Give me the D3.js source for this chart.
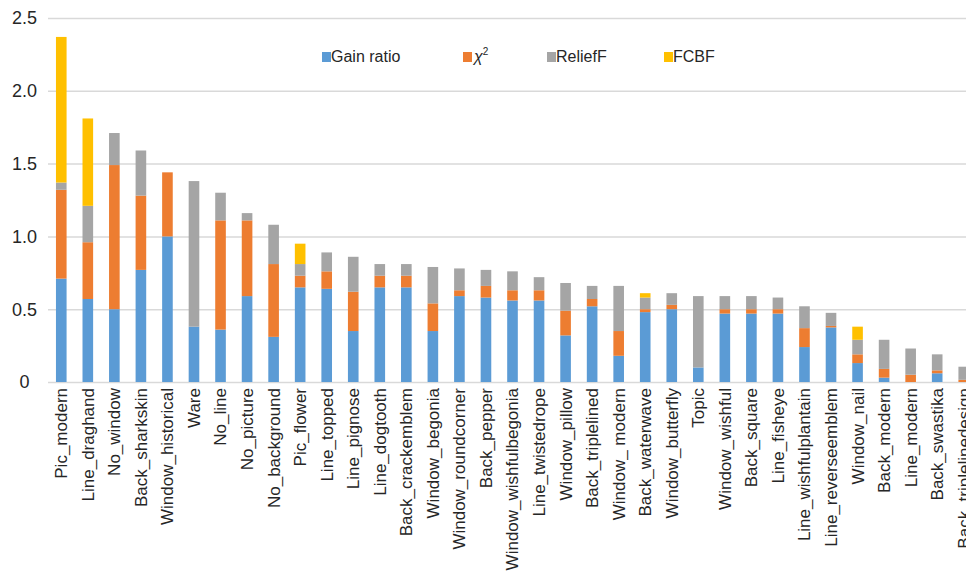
<html>
<head>
<meta charset="utf-8">
<title>Feature selection scores</title>
<style>
  body, html { margin: 0; padding: 0; background: #ffffff; }
  #chart { width: 966px; height: 572px; overflow: hidden; }
  text { font-family: 'Liberation Sans', Arial, sans-serif; fill: #262626; }
  .grid line { stroke: #d9d9d9; stroke-width: 1.5; }
  .grid path { display: none; }
  .grid text { display: none; }
</style>
<script src="https://cdn.jsdelivr.net/npm/d3@7"></script>
</head>
<body>
<div id="chart"></div>
<script>
var categories = ["Pic_modern", "Line_draghand", "No_window", "Back_sharkskin", "Window_historical",
  "Ware", "No_line", "No_picture", "No_background", "Pic_flower", "Line_topped", "Line_pignose",
  "Line_dogtooth", "Back_crackemblem", "Window_begonia", "Window_roundcorner", "Back_pepper",
  "Window_wishfulbegonia", "Line_twistedrope", "Window_pillow", "Back_triplelined", "Window_ modern",
  "Back_waterwave", "Window_butterfly", "Topic", "Window_wishful", "Back_square", "Line_fisheye",
  "Line_wishfulplantain", "Line_reverseemblem", "Window_nail", "Back_modern", "Line_modern",
  "Back_swastika", "Back_triplelinedesign"];

var gain_ratio = [0.71, 0.57, 0.50, 0.77, 1.00, 0.38, 0.36, 0.59, 0.31, 0.65, 0.64, 0.35,
  0.65, 0.65, 0.35, 0.59, 0.58, 0.56, 0.56, 0.32, 0.52, 0.18, 0.48, 0.50, 0.10, 0.47, 0.47,
  0.47, 0.24, 0.375, 0.13, 0.03, 0.0, 0.06, 0.0];
var chi2 = [0.61, 0.39, 0.99, 0.51, 0.44, 0.0, 0.75, 0.52, 0.50, 0.08, 0.12, 0.27,
  0.08, 0.08, 0.19, 0.04, 0.08, 0.07, 0.07, 0.17, 0.05, 0.17, 0.02, 0.03, 0.0, 0.03, 0.03,
  0.03, 0.13, 0.01, 0.06, 0.06, 0.05, 0.02, 0.015];
var relieff = [0.05, 0.25, 0.22, 0.31, 0.0, 1.00, 0.19, 0.05, 0.27, 0.08, 0.13, 0.24,
  0.08, 0.08, 0.25, 0.15, 0.11, 0.13, 0.09, 0.19, 0.09, 0.31, 0.08, 0.08, 0.49, 0.09, 0.09,
  0.08, 0.15, 0.09, 0.10, 0.20, 0.18, 0.11, 0.09];
var fcbf = [1.00, 0.60, 0, 0, 0, 0, 0, 0, 0, 0.14, 0, 0,
  0, 0, 0, 0, 0, 0, 0, 0, 0, 0, 0.03, 0, 0, 0, 0,
  0, 0, 0, 0.09, 0, 0, 0, 0];

var series_names = ["Gain ratio", "chi2", "ReliefF", "FCBF"];
var series_colors = ["#5b9bd5", "#ed7d31", "#a5a5a5", "#ffc000"];
var y_ticks = [0, 0.5, 1.0, 1.5, 2.0, 2.5];

var width = 966, height = 572;
var plot_left = 48, plot_right = 977;

var rows = categories.map(function(c, i) {
  return { name: c, "Gain ratio": gain_ratio[i], chi2: chi2[i], ReliefF: relieff[i], FCBF: fcbf[i] };
});

var stack = d3.stack().keys(series_names);
var layers = stack(rows);

var x = d3.scaleBand()
          .domain(categories)
          .range([plot_left, plot_right])
          .paddingInner(0.6)
          .paddingOuter(0.3);

var y = d3.scaleLinear()
          .domain([0, 2.5])
          .range([382, 18]);

var color = d3.scaleOrdinal().domain(series_names).range(series_colors);

var svg = d3.select("#chart")
            .append("svg")
            .attr("width", width)
            .attr("height", height);

// gridlines
svg.append("g")
   .attr("class", "grid")
   .attr("transform", "translate(" + plot_left + ",0)")
   .call(d3.axisLeft(y).tickValues(y_ticks).tickSize(-(plot_right - plot_left)));

// y tick labels, centred like the original
svg.append("g")
   .selectAll("text")
   .data(y_ticks)
   .enter()
   .append("text")
   .attr("x", 24.5)
   .attr("y", function(d) { return y(d); })
   .attr("dy", "0.35em")
   .attr("text-anchor", "middle")
   .style("font-size", "18px")
   .text(function(d) { return d === 0 ? "0" : d3.format(".1f")(d); });

// bars
svg.append("g")
   .selectAll("g")
   .data(layers)
   .enter()
   .append("g")
   .attr("fill", function(d) { return color(d.key); })
   .selectAll("rect")
   .data(function(d) { return d; })
   .enter()
   .append("rect")
   .attr("x", function(d) { return x(d.data.name); })
   .attr("width", x.bandwidth())
   .attr("y", function(d) { return y(d[1]); })
   .attr("height", function(d) { return y(d[0]) - y(d[1]); });

// x labels, rotated
svg.append("g")
   .selectAll("text")
   .data(categories)
   .enter()
   .append("text")
   .attr("transform", function(d) {
     return "translate(" + (x(d) + x.bandwidth() / 2) + ",388) rotate(-90)";
   })
   .attr("dy", "0.35em")
   .attr("text-anchor", "end")
   .style("font-size", "17px")
   .text(function(d) { return d; });

// legend
var legend_x = [322, 463, 547, 664];
var legend = svg.append("g")
                .selectAll("g")
                .data(series_names)
                .enter()
                .append("g")
                .attr("transform", function(d, i) { return "translate(" + legend_x[i] + ",52)"; });

legend.append("rect")
      .attr("width", 9)
      .attr("height", 10)
      .attr("fill", function(d) { return color(d); });

legend.append("text")
      .attr("x", 9)
      .attr("y", 10)
      .style("font-size", "16px")
      .each(function(d) {
        var t = d3.select(this);
        if (d === "chi2") {
          t.append("tspan").attr("dx", 2).style("font-style", "italic").text("χ");
          t.append("tspan").attr("dy", -7).style("font-size", "10px").text("2");
        } else {
          t.text(d);
        }
      });
</script>
</body>
</html>
